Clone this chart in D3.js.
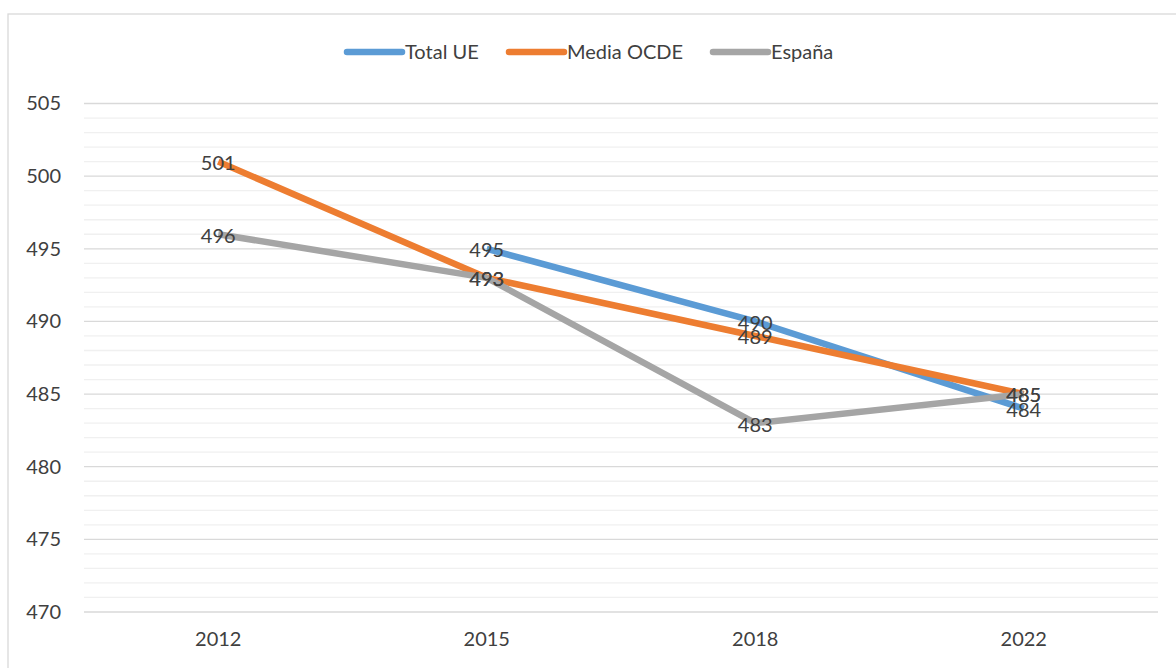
<!DOCTYPE html>
<html>
<head>
<meta charset="utf-8">
<script src="https://cdn.jsdelivr.net/npm/d3@7"></script>
<style>
  body { margin: 0; background: #fff; }
  text { font-family: Lato, "Open Sans", sans-serif; fill: #404040; }
</style>
</head>
<body>
<svg id="chart" width="1176" height="668"></svg>
<script>
var years = ["2012", "2015", "2018", "2022"];
var totalUE = [null, 495, 490, 484];
var mediaOCDE = [501, 493, 489, 485];
var espana = [496, 493, 483, 485];
var seriesNames = ["Total UE", "Media OCDE", "España"];
var seriesColors = ["#5b9bd5", "#ed7d31", "#a5a5a5"];
var yTicks = [470, 475, 480, 485, 490, 495, 500, 505];

var series = [totalUE, mediaOCDE, espana].map(function (vals, i) {
    return { name: seriesNames[i], color: seriesColors[i], values: vals };
});

var svg = d3.select("#chart");
var plotLeft = 84, plotRight = 1158, plotTop = 103.5, plotBottom = 612;

// outer chart border
svg.append("rect")
    .attr("x", 8).attr("y", 14)
    .attr("width", 1180).attr("height", 670)
    .attr("fill", "none")
    .attr("stroke", "#d9d9d9")
    .attr("stroke-width", 1.3);

var x = d3.scaleBand().domain(years).range([plotLeft, plotRight]);
var y = d3.scaleLinear().domain([470, 505]).range([plotBottom, plotTop]);

// minor gridlines every 1 unit
var minor = d3.range(470, 506).filter(function (v) { return v % 5 !== 0; });
svg.append("g").selectAll("line").data(minor).enter().append("line")
    .attr("x1", plotLeft).attr("x2", plotRight)
    .attr("y1", function (d) { return y(d); })
    .attr("y2", function (d) { return y(d); })
    .attr("stroke", "#f0f0f0").attr("stroke-width", 1.3);

// major gridlines
svg.append("g").selectAll("line").data(yTicks).enter().append("line")
    .attr("x1", plotLeft).attr("x2", plotRight)
    .attr("y1", function (d) { return y(d); })
    .attr("y2", function (d) { return y(d); })
    .attr("stroke", "#d9d9d9").attr("stroke-width", 1.3);

// y axis labels
var yAxis = d3.axisLeft(y).tickValues(yTicks).tickSize(0).tickPadding(23);
svg.append("g").attr("transform", "translate(" + plotLeft + ",0)").call(yAxis)
    .call(function (g) { g.select(".domain").remove(); })
    .attr("font-family", null)
    .selectAll("text")
    .style("font-size", "20px").attr("fill", "#404040");

// x axis labels
var xAxis = d3.axisBottom(x).tickSize(0).tickPadding(20);
svg.append("g").attr("transform", "translate(0," + plotBottom + ")").call(xAxis)
    .call(function (g) { g.select(".domain").remove(); })
    .attr("font-family", null)
    .selectAll("text")
    .style("font-size", "20px").attr("fill", "#404040");

var line = d3.line()
    .defined(function (d) { return d != null; })
    .x(function (d, i) { return x(years[i]) + x.bandwidth() / 2; })
    .y(function (d) { return y(d); });

series.forEach(function (s) {
    svg.append("path")
        .datum(s.values)
        .attr("d", line)
        .attr("fill", "none")
        .attr("stroke", s.color)
        .attr("stroke-width", 6.5)
        .attr("stroke-linejoin", "round");
});

// data labels
series.forEach(function (s) {
    svg.append("g").selectAll("text")
        .data(s.values.map(function (v, i) { return { v: v, i: i }; })
            .filter(function (d) { return d.v != null; }))
        .enter().append("text")
        .attr("x", function (d) { return x(years[d.i]) + x.bandwidth() / 2; })
        .attr("y", function (d) { return y(d.v); })
        .attr("dy", "0.42em")
        .attr("text-anchor", "middle")
        .style("font-size", "20px")
        .text(function (d) { return d.v; });
});

// legend
var legendX = [347, 509, 713];
var legend = svg.append("g").selectAll("g").data(series).enter().append("g")
    .attr("transform", function (d, i) { return "translate(" + legendX[i] + ",52)"; });
legend.append("line")
    .attr("x1", 0).attr("x2", 55)
    .attr("stroke", function (d) { return d.color; })
    .attr("stroke-width", 6.5)
    .attr("stroke-linecap", "round");
legend.append("text")
    .attr("x", 58).attr("dy", "0.35em")
    .style("font-size", "20px")
    .text(function (d) { return d.name; });
</script>
</body>
</html>
